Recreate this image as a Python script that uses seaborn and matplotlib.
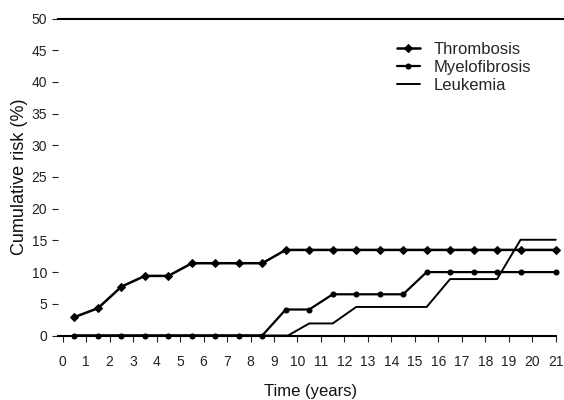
import matplotlib
matplotlib.use("Agg")
import matplotlib.pyplot as plt
import seaborn as sns
import pandas as pd

sns.set_style("white")
plt.rcParams['font.family'] = ['Liberation Sans', 'DejaVu Sans']

time_marks = [0.5, 1.5, 2.5, 3.5, 4.5, 5.5, 6.5, 7.5, 8.5, 9.5,
              10.5, 11.5, 12.5, 13.5, 14.5, 15.5, 16.5, 17.5, 18.5, 19.5, 21]
thrombosis = [2.9, 4.3, 7.7, 9.4, 9.4, 11.4, 11.4, 11.4, 11.4, 13.5,
              13.5, 13.5, 13.5, 13.5, 13.5, 13.5, 13.5, 13.5, 13.5, 13.5, 13.5]
myelofibrosis = [0, 0, 0, 0, 0, 0, 0, 0, 0, 4.1,
                 4.1, 6.5, 6.5, 6.5, 6.5, 10.0, 10.0, 10.0, 10.0, 10.0, 10.0]
leuk_time = [0.5, 9.6, 10.5, 11.5, 12.5, 15.5, 16.5, 18.5, 19.5, 21]
leukemia = [0, 0, 1.9, 1.9, 4.5, 4.5, 8.9, 8.9, 15.1, 15.1]

x_ticks = list(range(0, 22))
y_ticks = list(range(0, 51, 5))

fig = plt.figure(figsize=(5.64, 4.0), dpi=100)
ax = fig.add_axes([58/564, 64.5/400, 506/564, 317/400])

sns.lineplot(x=time_marks, y=thrombosis, ax=ax, color='black', lw=1.8,
             marker='D', markersize=4, markeredgecolor='black',
             label='Thrombosis', clip_on=False)
sns.lineplot(x=time_marks, y=myelofibrosis, ax=ax, color='black', lw=1.6,
             marker='o', markersize=3.6, markeredgecolor='black',
             label='Myelofibrosis', clip_on=False)
sns.lineplot(x=leuk_time, y=leukemia, ax=ax, color='black', lw=1.4,
             label='Leukemia', clip_on=False)

ax.set_xlim(-0.2, 21.35)
ax.set_ylim(0, 50)
ax.set_xticks(x_ticks)
ax.set_yticks(y_ticks)
ax.tick_params(axis='x', direction='out', length=4, width=0.8, colors='#222222',
               labelsize=10, pad=10, bottom=True)
ax.tick_params(axis='y', direction='out', length=4, width=0.8, colors='#222222',
               labelsize=10, pad=4, left=True)
ax.spines['left'].set_visible(False)
ax.spines['right'].set_visible(False)
ax.spines['top'].set_visible(True)
ax.spines['top'].set_linewidth(1.5)
ax.spines['top'].set_color('black')
ax.spines['bottom'].set_linewidth(1.5)
ax.spines['bottom'].set_color('black')
ax.spines['bottom'].set_bounds(-0.2, 21)

ax.set_xlabel('Time (years)', fontsize=12, color='#111111', labelpad=11)
ax.set_ylabel('Cumulative risk (%)', fontsize=13, color='#111111', labelpad=2)

ax.legend(loc='upper left', bbox_to_anchor=(390/564, 1 - 35/400),
          bbox_transform=fig.transFigure, frameon=False, fontsize=12,
          handlelength=1.4, handletextpad=0.8, labelspacing=0.2,
          borderaxespad=0)

fig.savefig('out.png', dpi=100)
